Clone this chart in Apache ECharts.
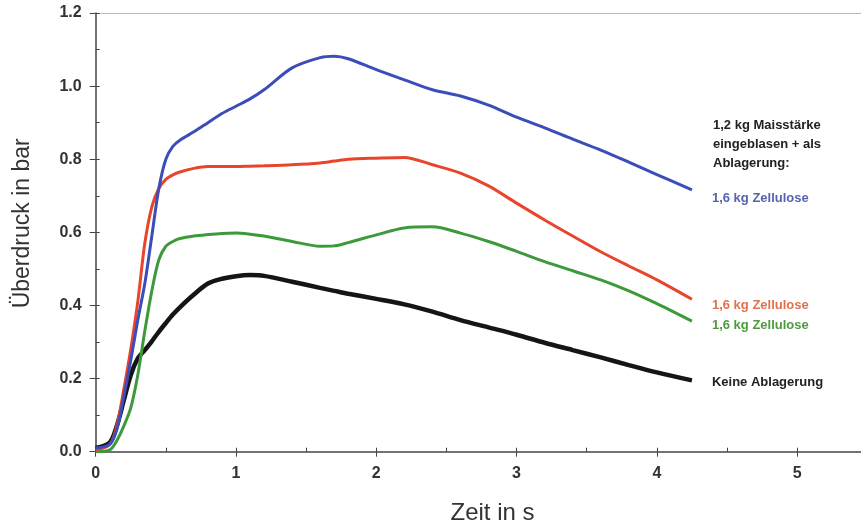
<!DOCTYPE html>
<html>
<head>
<meta charset="utf-8">
<script src="https://cdn.jsdelivr.net/npm/echarts@6/dist/echarts.min.js"></script>
<style>
  html, body { margin: 0; padding: 0; background: #fff; }
  #main { width: 861px; height: 524px; }
</style>
</head>
<body>
<div id="main"></div>
<script>
// Zeit in s
var t = [0, 0.1, 0.15, 0.2, 0.25, 0.3, 0.35, 0.4, 0.45, 0.5, 0.55, 0.6, 0.7, 0.8, 0.9, 1.0, 1.1, 1.2, 1.4, 1.6, 1.7, 1.8, 2.0, 2.2, 2.4, 2.6, 2.8, 3.0, 3.2, 3.4, 3.6, 3.8, 4.0, 4.25];
// Ueberdruck in bar
var pBlau  = [0.01, 0.02, 0.06, 0.15, 0.25, 0.36, 0.46, 0.59, 0.72, 0.8, 0.835, 0.852, 0.875, 0.9, 0.925, 0.945, 0.965, 0.99, 1.05, 1.078, 1.082, 1.075, 1.045, 1.017, 0.99, 0.973, 0.948, 0.915, 0.886, 0.855, 0.825, 0.792, 0.758, 0.716];
var pRot   = [0.005, 0.02, 0.07, 0.17, 0.28, 0.41, 0.57, 0.67, 0.72, 0.745, 0.757, 0.765, 0.775, 0.78, 0.78, 0.78, 0.781, 0.782, 0.785, 0.79, 0.795, 0.8, 0.803, 0.805, 0.785, 0.762, 0.727, 0.68, 0.634, 0.59, 0.547, 0.508, 0.47, 0.417];
var pGruen = [0.0, 0.005, 0.03, 0.07, 0.12, 0.21, 0.33, 0.44, 0.525, 0.562, 0.575, 0.583, 0.59, 0.594, 0.597, 0.598, 0.595, 0.59, 0.575, 0.562, 0.563, 0.572, 0.593, 0.612, 0.615, 0.598, 0.575, 0.548, 0.52, 0.495, 0.47, 0.44, 0.405, 0.357];
var pSchwarz = [0.01, 0.025, 0.07, 0.14, 0.21, 0.255, 0.278, 0.302, 0.328, 0.352, 0.375, 0.395, 0.43, 0.46, 0.473, 0.48, 0.483, 0.481, 0.465, 0.448, 0.44, 0.432, 0.418, 0.403, 0.383, 0.36, 0.34, 0.32, 0.298, 0.278, 0.258, 0.237, 0.217, 0.195];

var namen = ['1,6 kg Zellulose', '1,6 kg Zellulose', '1,6 kg Zellulose', 'Keine Ablagerung'];
var farben = ['#3b4db8', '#e8452c', '#3c9a3a', '#151515'];
var textFarben = ['#5563b0', '#e0704f', '#4e9a3e', '#222222'];
var breiten = [3, 3, 3, 4.5];
var labelVersatz = [8, 6, 4, 2];

function paare(werte) {
  return t.map(function (x, i) { return [x, werte[i]]; });
}

var chart = echarts.init(document.getElementById('main'));

var achsenFarbe = '#444';
var schrift = 'Liberation Sans, Arial, sans-serif';
var tickFont = { fontFamily: schrift, fontWeight: 'bold', fontSize: 16, color: '#333' };

var serien = [pBlau, pRot, pGruen, pSchwarz].map(function (werte, i) {
  return {
    name: namen[i] + i,
    type: 'line',
    data: paare(werte),
    smooth: 0.3,
    symbol: 'none',
    lineStyle: { color: farben[i], width: breiten[i] },
    endLabel: {
      show: true,
      formatter: namen[i],
      distance: 20,
      offset: [0, labelVersatz[i]],
      color: textFarben[i],
      fontFamily: schrift,
      fontWeight: 'bold',
      fontSize: 13
    },
    z: 4 - i
  };
});

var option = {
  animation: false,
  backgroundColor: '#fff',
  grid: { left: 95.7, top: 13, width: 771.6, bottom: 72.3, outerBoundsMode: 'none', containLabel: false },
  xAxis: [{
    type: 'value', min: 0, max: 5.5, interval: 1,
    name: 'Zeit in s', nameLocation: 'middle', nameGap: 50,
    nameTextStyle: { fontFamily: schrift, fontSize: 24, color: '#333', padding: [0, 0, 0, 22] },
    axisLine: { show: true, lineStyle: { color: achsenFarbe, width: 1.5 } },
    axisTick: { show: true, inside: true, length: 4, lineStyle: { color: achsenFarbe } },
    minorTick: { show: true, splitNumber: 2, length: 4, lineStyle: { color: achsenFarbe } },
    splitLine: { show: false },
    axisLabel: Object.assign({ margin: 14, showMaxLabel: false }, tickFont)
  }, {
    type: 'value', min: 0, max: 5.5, interval: 1, position: 'bottom',
    axisLine: { show: false },
    axisTick: { show: true, inside: false, length: 5, lineStyle: { color: achsenFarbe } },
    axisLabel: { show: false },
    splitLine: { show: false }
  }, {
    // duenne Linie oben
    type: 'value', min: 0, max: 5.5, position: 'top',
    axisLine: { show: true, lineStyle: { color: '#bbb', width: 1 } },
    axisTick: { show: false },
    axisLabel: { show: false },
    splitLine: { show: false }
  }],
  yAxis: [{
    type: 'value', min: 0, max: 1.2, interval: 0.2,
    name: 'Überdruck in bar', nameLocation: 'middle', nameGap: 62,
    nameTextStyle: { fontFamily: schrift, fontSize: 23, color: '#333', padding: [0, 0, 0, 18] },
    axisLine: { show: true, lineStyle: { color: achsenFarbe, width: 1.5 } },
    axisTick: { show: true, inside: true, length: 4, lineStyle: { color: achsenFarbe } },
    minorTick: { show: true, splitNumber: 2, length: 4, lineStyle: { color: achsenFarbe } },
    splitLine: { show: false },
    axisLabel: Object.assign({ margin: 14, formatter: function (v) { return v.toFixed(1); } }, tickFont)
  }, {
    type: 'value', min: 0, max: 1.2, interval: 0.2, position: 'left',
    axisLine: { show: false },
    axisTick: { show: true, inside: false, length: 6, lineStyle: { color: achsenFarbe } },
    axisLabel: { show: false },
    splitLine: { show: false }
  }],
  graphic: [{
    type: 'text', left: 713, top: 116,
    style: {
      text: '1,2 kg Maisstärke\neingeblasen + als\nAblagerung:',
      fill: '#222', font: 'bold 13px "Liberation Sans", Arial, sans-serif', lineHeight: 19
    }
  }],
  series: serien
};

chart.setOption(option);
</script>
</body>
</html>
